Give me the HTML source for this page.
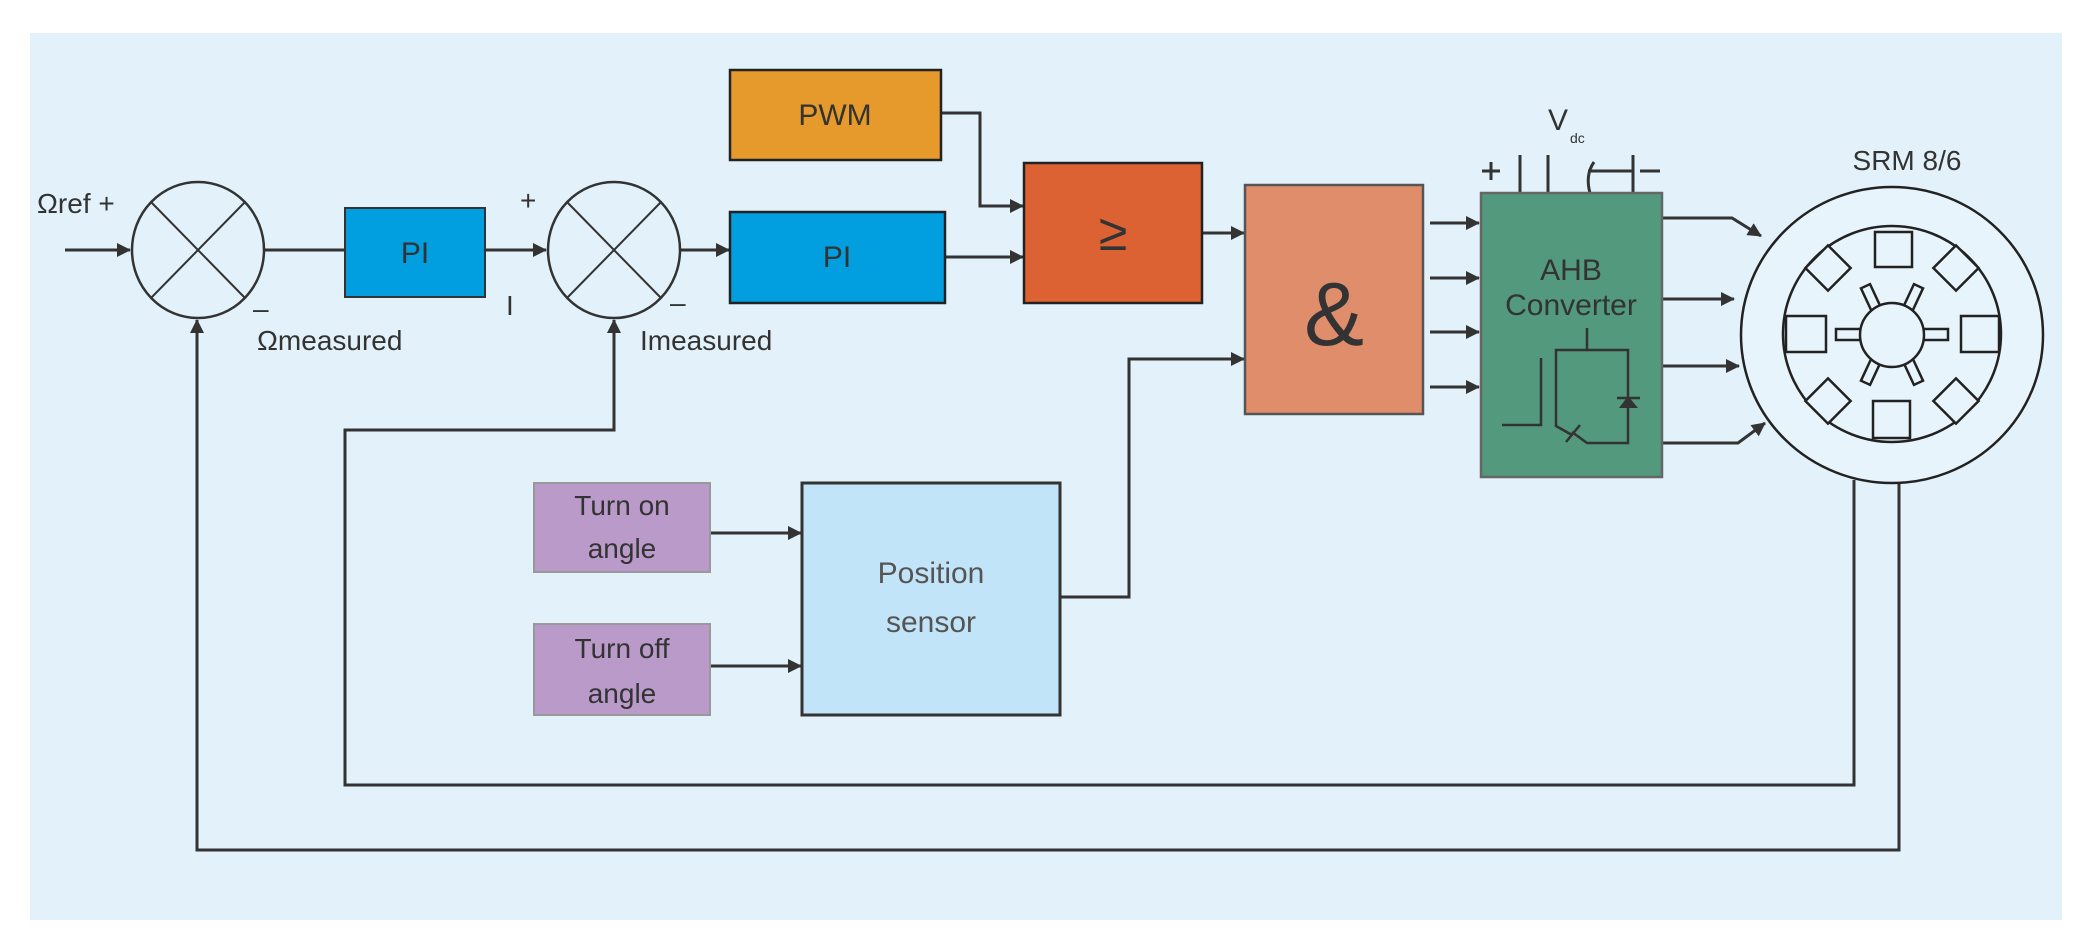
<!DOCTYPE html>
<html><head><meta charset="utf-8"><style>
html,body{margin:0;padding:0;background:#fff;}
svg{display:block;}
text{font-family:"Liberation Sans",sans-serif;fill:#333;}
</style></head><body>
<svg width="2091" height="952" viewBox="0 0 2091 952" xmlns="http://www.w3.org/2000/svg">
<defs>
<marker id="a" markerWidth="14" markerHeight="14" refX="13" refY="7" orient="auto" markerUnits="userSpaceOnUse"><path d="M0,0 L14,7 L0,14 z" fill="#333"/></marker>
</defs>
<rect x="30" y="33" width="2032" height="887" fill="#E3F2FA"/>
<g stroke="#333" stroke-width="3" fill="none">
<line x1="65" y1="250" x2="130" y2="250" marker-end="url(#a)"/>
<ellipse cx="198" cy="250" rx="66" ry="68" stroke-width="2.5"/>
<line x1="151" y1="202" x2="245" y2="298" stroke-width="2"/>
<line x1="245" y1="202" x2="151" y2="298" stroke-width="2"/>
<line x1="265" y1="250" x2="345" y2="250"/>
<line x1="485" y1="250" x2="546" y2="250" marker-end="url(#a)"/>
<ellipse cx="614" cy="250" rx="66" ry="68" stroke-width="2.5"/>
<line x1="567" y1="202" x2="661" y2="298" stroke-width="2"/>
<line x1="661" y1="202" x2="567" y2="298" stroke-width="2"/>
<line x1="681" y1="250" x2="729" y2="250" marker-end="url(#a)"/>
<polyline points="941,113 980,113 980,206 1023,206" marker-end="url(#a)"/>
<line x1="945" y1="257" x2="1023" y2="257" marker-end="url(#a)"/>
<line x1="1202" y1="233" x2="1244" y2="233" marker-end="url(#a)"/>
<polyline points="1060,597 1129,597 1129,359 1244,359" marker-end="url(#a)"/>
<line x1="710" y1="533" x2="801" y2="533" marker-end="url(#a)"/>
<line x1="710" y1="666" x2="801" y2="666" marker-end="url(#a)"/>
<line x1="1430" y1="223" x2="1479" y2="223" marker-end="url(#a)"/>
<line x1="1430" y1="278" x2="1479" y2="278" marker-end="url(#a)"/>
<line x1="1430" y1="332" x2="1479" y2="332" marker-end="url(#a)"/>
<line x1="1430" y1="387" x2="1479" y2="387" marker-end="url(#a)"/>
<path d="M1662,218 L1732,218 L1761,236" marker-end="url(#a)"/>
<line x1="1662" y1="299" x2="1734" y2="299" marker-end="url(#a)"/>
<line x1="1662" y1="366" x2="1739" y2="366" marker-end="url(#a)"/>
<path d="M1662,443 L1738,443 L1765,423" marker-end="url(#a)"/>
<polyline points="1854,480 1854,785 345,785 345,430 614,430 614,320" marker-end="url(#a)"/>
<polyline points="1899,480 1899,850 197,850 197,320" marker-end="url(#a)"/>
<line x1="1520" y1="155" x2="1520" y2="193"/>
<line x1="1548" y1="155" x2="1548" y2="193"/>
<path d="M1594,162 Q1585,175 1590,193"/>
<line x1="1588" y1="171" x2="1633" y2="171"/>
<line x1="1633" y1="155" x2="1633" y2="193"/>
<line x1="1640" y1="171" x2="1660" y2="171"/>
<line x1="1482" y1="171" x2="1500" y2="171"/>
<line x1="1491" y1="162" x2="1491" y2="180"/>
</g>
<rect x="345" y="208" width="140" height="89" fill="#019FE0" stroke="#333" stroke-width="2"/>
<rect x="730" y="212" width="215" height="91" fill="#019FE0" stroke="#222" stroke-width="2.5"/>
<rect x="730" y="70" width="211" height="90" fill="#E59A2B" stroke="#222" stroke-width="2.5"/>
<rect x="1024" y="163" width="178" height="140" fill="#DC6233" stroke="#222" stroke-width="2.5"/>
<rect x="1245" y="185" width="178" height="229" fill="#E08D6C" stroke="#555" stroke-width="2.5"/>
<rect x="1481" y="193" width="181" height="284" fill="#52997D" stroke="#666" stroke-width="2.5"/>
<rect x="534" y="483" width="176" height="89" fill="#BA9AC9" stroke="#999" stroke-width="2"/>
<rect x="534" y="624" width="176" height="91" fill="#BA9AC9" stroke="#999" stroke-width="2"/>
<rect x="802" y="483" width="258" height="232" fill="#C2E4F8" stroke="#333" stroke-width="3"/>
<g stroke="#333" stroke-width="2.5" fill="none">
<polyline points="1502,425 1541,425 1541,358"/>
<polyline points="1587,328 1587,350 1556,350 1556,426 1572,435"/>
<polyline points="1587,350 1628,350 1628,443 1587,443 1572,432"/>
<line x1="1566" y1="442" x2="1580" y2="425"/>
<line x1="1617" y1="398" x2="1640" y2="398"/>
</g>
<path d="M1619,408 L1638,408 L1628,396 z" fill="#333"/>
<g stroke="#222" stroke-width="2.5" fill="#E8F4FB">
<ellipse cx="1892" cy="335" rx="151" ry="148"/>
<ellipse cx="1892" cy="334" rx="109" ry="108"/>
<rect x="1875" y="232" width="37" height="35"/>
<rect x="1873" y="401" width="37" height="37"/>
<rect x="1786" y="316" width="40" height="36"/>
<rect x="1961" y="316" width="38" height="36"/>
<rect x="1812" y="252" width="32" height="32" transform="rotate(45 1828 268)"/>
<rect x="1940" y="252" width="32" height="32" transform="rotate(45 1956 268)"/>
<rect x="1812" y="385" width="32" height="32" transform="rotate(45 1828 401)"/>
<rect x="1940" y="385" width="32" height="32" transform="rotate(45 1956 401)"/>
<rect x="1836" y="329" width="26" height="11"/>
<rect x="1922" y="329" width="26" height="11"/>
<rect x="1866" y="285" width="10" height="26" transform="rotate(-25 1871 298)"/>
<rect x="1908" y="285" width="10" height="26" transform="rotate(25 1913 298)"/>
<rect x="1866" y="358" width="10" height="26" transform="rotate(25 1871 371)"/>
<rect x="1908" y="358" width="10" height="26" transform="rotate(-25 1913 371)"/>
<circle cx="1892" cy="335" r="32"/>
</g>
<text x="37" y="213" font-size="28">Ωref +</text>
<text x="257" y="350" font-size="28">Ωmeasured</text>
<text x="253" y="318" font-size="28">–</text>
<text x="520" y="210" font-size="28">+</text>
<text x="506" y="315" font-size="28">I</text>
<text x="670" y="312" font-size="28">–</text>
<text x="640" y="350" font-size="28">Imeasured</text>
<text x="415" y="263" font-size="30" text-anchor="middle">PI</text>
<text x="837" y="267" font-size="30" text-anchor="middle">PI</text>
<text x="835" y="125" font-size="30" text-anchor="middle">PWM</text>
<text x="1113" y="250" font-size="52" text-anchor="middle">≥</text>
<text x="1334" y="345" font-size="90" text-anchor="middle">&amp;</text>
<text x="1571" y="280" font-size="30" text-anchor="middle">AHB</text>
<text x="1571" y="315" font-size="30" text-anchor="middle">Converter</text>
<text x="1548" y="130" font-size="30">V</text>
<text x="1570" y="143" font-size="14">dc</text>
<text x="1907" y="170" font-size="28" text-anchor="middle">SRM 8/6</text>
<text x="622" y="515" font-size="28" text-anchor="middle">Turn on</text>
<text x="622" y="558" font-size="28" text-anchor="middle">angle</text>
<text x="622" y="658" font-size="28" text-anchor="middle">Turn off</text>
<text x="622" y="703" font-size="28" text-anchor="middle">angle</text>
<text x="931" y="583" font-size="30" text-anchor="middle" style="fill:#555">Position</text>
<text x="931" y="632" font-size="30" text-anchor="middle" style="fill:#555">sensor</text>
</svg>
</body></html>
